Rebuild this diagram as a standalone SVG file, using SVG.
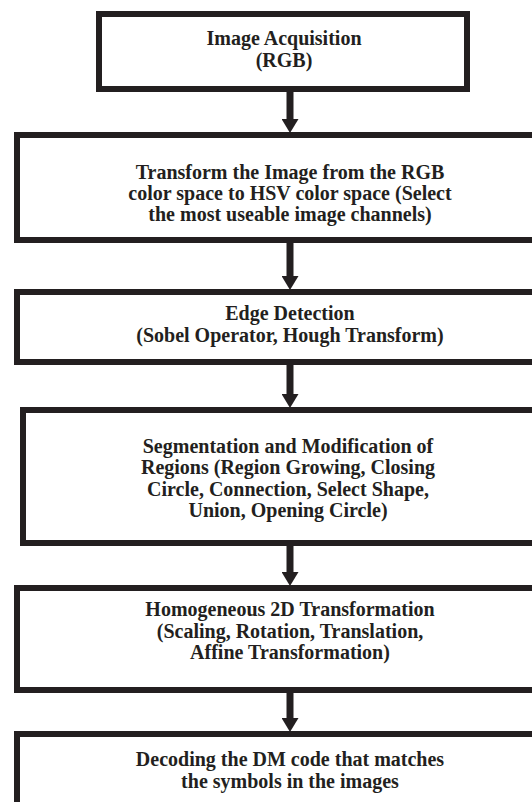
<svg xmlns="http://www.w3.org/2000/svg" width="532" height="802" viewBox="0 0 532 802">
<style>
.box{fill:#fff;stroke:#231f20;stroke-width:6}
.t{font-family:"Liberation Serif","Times New Roman",serif;font-weight:bold;font-size:20px;fill:#231f20;text-anchor:middle}
.c{stroke:#231f20;stroke-width:7;fill:none}
</style>
<defs>
<marker id="ah" viewBox="0 0 14 17" refX="0" refY="8.5" markerWidth="14" markerHeight="17" markerUnits="userSpaceOnUse" orient="auto">
<path d="M0,0 L14,8.5 L0,17 Z" fill="#231f20"/>
</marker>
</defs>
<rect width="532" height="802" fill="#fff"/>
<g id="connectors">
<line class="c" x1="290" y1="92" x2="290" y2="119" marker-end="url(#ah)"/>
<line class="c" x1="290" y1="243" x2="290" y2="276" marker-end="url(#ah)"/>
<line class="c" x1="290" y1="365" x2="290" y2="394" marker-end="url(#ah)"/>
<line class="c" x1="290" y1="546" x2="290" y2="572" marker-end="url(#ah)"/>
<line class="c" x1="290" y1="693" x2="290" y2="718" marker-end="url(#ah)"/>
</g>
<g id="n1">
<rect class="box" x="99" y="14" width="368" height="75"/>
<text class="t" x="284" y="45">Image Acquisition</text>
<text class="t" x="284" y="67">(RGB)</text>
</g>
<g id="n2">
<rect class="box" x="17" y="135" width="560" height="105"/>
<text class="t" x="290" y="179">Transform the Image from the RGB</text>
<text class="t" x="290" y="200">color space to HSV color space (Select</text>
<text class="t" x="290" y="221">the most useable image channels)</text>
</g>
<g id="n3">
<rect class="box" x="17" y="292" width="560" height="70"/>
<text class="t" x="290" y="320">Edge Detection</text>
<text class="t" x="290" y="342">(Sobel Operator, Hough Transform)</text>
</g>
<g id="n4">
<rect class="box" x="23" y="410" width="560" height="133"/>
<text class="t" x="288" y="453">Segmentation and Modification of</text>
<text class="t" x="288" y="474">Regions (Region Growing, Closing</text>
<text class="t" x="288" y="496">Circle, Connection, Select Shape,</text>
<text class="t" x="288" y="517">Union, Opening Circle)</text>
</g>
<g id="n5">
<rect class="box" x="17" y="588" width="560" height="102"/>
<text class="t" x="290" y="616">Homogeneous 2D Transformation</text>
<text class="t" x="290" y="638">(Scaling, Rotation, Translation,</text>
<text class="t" x="290" y="659">Affine Transformation)</text>
</g>
<g id="n6">
<rect class="box" x="17" y="734" width="560" height="100"/>
<text class="t" x="290" y="766">Decoding the DM code that matches</text>
<text class="t" x="290" y="788">the symbols in the images</text>
</g>
</svg>
